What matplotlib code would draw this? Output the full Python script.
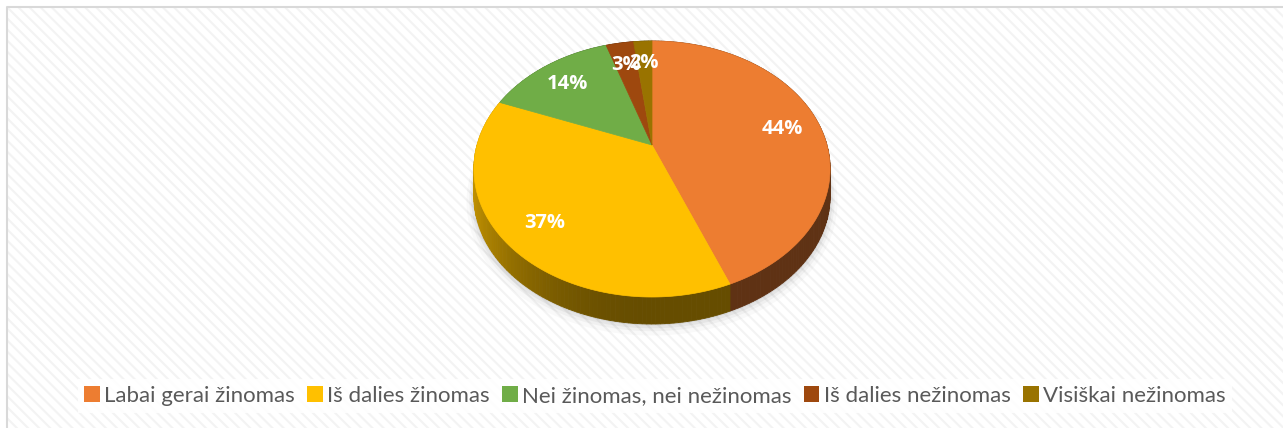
import numpy as np
import matplotlib.pyplot as plt
from matplotlib.patches import Polygon, Rectangle, Patch
from matplotlib.lines import Line2D
from matplotlib.colors import to_rgb

categories = ['Labai gerai žinomas', 'Iš dalies žinomas', 'Nei žinomas, nei nežinomas',
              'Iš dalies nežinomas', 'Visiškai nežinomas']
shares = [44, 37, 14, 3, 2]
labels = ['44%', '37%', '14%', '3%', '2%']
colors = ['#ED7D31', '#FFC000', '#70AD47', '#9E480E', '#997300']

plt.rcParams['hatch.linewidth'] = 1.5

W, H = 1283, 428
fig = plt.figure(figsize=(W / 100, H / 100), dpi=100)
ax = fig.add_axes([0, 0, 1, 1])
ax.set_xlim(0, W)
ax.set_ylim(H, 0)
ax.axis('off')

# chart area: hatched background + grey border (left/top only visible)
ax.add_patch(Rectangle((7, 7), W + 20, H + 20, facecolor='white', edgecolor='#f3f3f3', lw=0,
                       hatch='\\\\\\', zorder=0))
ax.add_line(Line2D([7, 7, W], [H, 7, 7], color='#d9d9d9', lw=1.5, zorder=1))

# simple perspective projection of the pie disk
cx, cy = 652, 145
f, D, tilt = 933, 5.333, 0.706
depth = 27


def project(theta, r=1.0, drop=0.0):
    u, v = r * np.sin(theta), r * np.cos(theta)
    x = cx + f * u / (D + v)
    y = cy - f * tilt * v / (D + v) + drop
    return x, y


frac = np.array(shares) / sum(shares)
edges = np.concatenate([[0], np.cumsum(frac)]) * 2 * np.pi

# soft shadow under the pie
tt = np.linspace(0, 2 * np.pi, 200)
for k, a in zip([8, 5, 3, 1], [0.025, 0.035, 0.045, 0.06]):
    sx, sy = project(tt, 1.0 + k / 200, depth + k * 0.5)
    ax.add_patch(Polygon(np.column_stack([sx, sy]), closed=True, facecolor='black',
                         edgecolor='none', alpha=a, zorder=1.5))

# side walls
quads = []
for i in range(len(shares)):
    th = np.linspace(edges[i], edges[i + 1], max(4, int(frac[i] * 300)))
    base = np.array(to_rgb(colors[i]))
    for a0, a1 in zip(th[:-1], th[1:]):
        x0, y0 = project(a0)
        x1, y1 = project(a1)
        am = 0.5 * (a0 + a1)
        shade = 0.4 + 0.38 * max(0.0, -np.sin(am)) ** 2
        quads.append((np.cos(am), [[x0, y0], [x1, y1], [x1, y1 + depth], [x0, y0 + depth]],
                      np.clip(base * shade, 0, 1)))
quads.sort(key=lambda q: -q[0])
for _, pts, c in quads:
    ax.add_patch(Polygon(pts, closed=True, facecolor=c, edgecolor=c, lw=0.6, zorder=2))

# top face
for i in range(len(shares)):
    th = np.linspace(edges[i], edges[i + 1], max(4, int(frac[i] * 400)))
    px, py = project(th)
    pts = np.vstack([[cx, cy], np.column_stack([px, py])])
    ax.add_patch(Polygon(pts, closed=True, facecolor=colors[i], edgecolor=colors[i], lw=0.5, zorder=3))

# data labels
for i in range(len(shares)):
    mid = 0.5 * (edges[i] + edges[i + 1])
    lx, ly = project(mid, 0.78)
    ax.text(lx, ly + 2, labels[i], color='white', fontsize=14.5, fontweight='bold', family='Open Sans',
            ha='center', va='center', zorder=5)

handles = [Patch(facecolor=c, edgecolor='none') for c in colors]
leg = fig.legend(handles, categories, loc='center', bbox_to_anchor=(655 / W, 1 - 396 / H), ncol=5,
                 frameon=True, facecolor='white', edgecolor='none', framealpha=0.9, fancybox=False,
                 prop={'family': 'Lato', 'size': 16}, handlelength=0.7, handleheight=0.7,
                 handletextpad=0.2, columnspacing=0.55, borderpad=0.3)
for t in leg.get_texts():
    t.set_color('#595959')

fig.savefig('out.png', dpi=100)
